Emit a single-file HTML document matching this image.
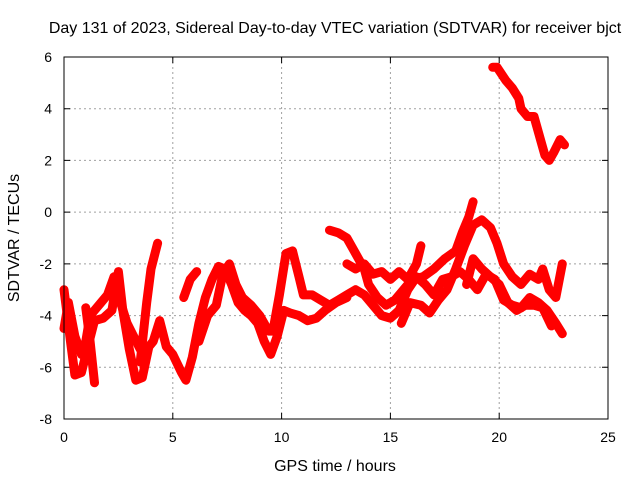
<!DOCTYPE html>
<html><head><meta charset="utf-8"><style>
body{margin:0;background:#fff;}
svg text{font-family:"Liberation Sans",sans-serif;font-size:14px;fill:#000;}
svg text.big{font-size:16px;}
</style></head><body>
<svg id="chart" width="640" height="480" xmlns="http://www.w3.org/2000/svg">
<text class="big" x="335" y="33" text-anchor="middle">Day 131 of 2023, Sidereal Day-to-day VTEC variation (SDTVAR) for receiver bjct</text>
<text class="big" x="335" y="471" text-anchor="middle">GPS time / hours</text>
<text class="big" transform="translate(19,238) rotate(-90)" text-anchor="middle">SDTVAR / TECUs</text>
<g id="grid"></g>
<g id="ticks"></g>
<g id="series"></g>
<rect x="64" y="57" width="544" height="362" fill="none" stroke="#000" stroke-width="1"/>
</svg>
<script>
const xTicks=[0,5,10,15,20,25];
const yTicks=[-8,-6,-4,-2,0,2,4,6];
const trackA=[[0,-3],[0.3,-5],[0.5,-6.3],[0.8,-6.2],[1.1,-5.2],[1.4,-4.2],[1.8,-4.1],[2.2,-3.8],[2.5,-2.3],[2.7,-3.8],[3.0,-5.3],[3.3,-6.5],[3.6,-6.4],[3.9,-5.2],[4.1,-5],[4.4,-4.2],[4.7,-5.2],[5.0,-5.5],[5.4,-6.2],[5.6,-6.5],[5.9,-5.6],[6.2,-4.3],[6.5,-3.3],[6.8,-2.6],[7.1,-2.1],[7.4,-2.2],[7.7,-2.8],[8.0,-3.5],[8.3,-3.8],[8.6,-4.0],[8.9,-4.3],[9.2,-5.0],[9.5,-5.5],[9.8,-4.8],[10.1,-3.8],[10.4,-3.9],[10.8,-4.0],[11.2,-4.2],[11.6,-4.1],[12.0,-3.8],[12.5,-3.5],[13.0,-3.3]];
const trackB=[[0,-4.5],[0.2,-3.5],[0.5,-4.8],[0.8,-5.5],[1.0,-5.0],[1.2,-4],[1.4,-3.8],[1.7,-3.5],[2.0,-3.2],[2.3,-2.5],[2.6,-3.5],[2.9,-4.3],[3.2,-4.8],[3.5,-5.3]];
const trackC=[[1.0,-3.7],[1.2,-5],[1.4,-6.6]];
const trackD=[[3.5,-5.8],[3.8,-3.5],[4.0,-2.2],[4.3,-1.2]];
const trackE=[[5.5,-3.3],[5.8,-2.6],[6.1,-2.3]];
const trackF=[[6.2,-5.0],[6.6,-4.0],[7.0,-3.6],[7.3,-2.4],[7.6,-2.0],[7.9,-2.8],[8.2,-3.3],[8.6,-3.6],[9.0,-4.0],[9.4,-4.6],[9.6,-4.6],[9.9,-3.2],[10.2,-1.6],[10.5,-1.5],[10.8,-2.5],[11.0,-3.2],[11.4,-3.2],[11.8,-3.4],[12.2,-3.6],[12.6,-3.4],[13.0,-3.2],[13.4,-3.0],[13.8,-3.2],[14.2,-3.6],[14.6,-4.0],[15.0,-4.1],[15.4,-3.8],[15.8,-3.0],[16.2,-2.5],[16.6,-2.8],[17.0,-3.2],[17.4,-2.6],[17.8,-2.5],[18.2,-2.3],[18.6,-2.6],[19.0,-3.0],[19.4,-2.4],[19.8,-2.6],[20.2,-3.4],[20.6,-3.6],[21.0,-3.7],[21.4,-3.3],[21.8,-3.5],[22.2,-3.8],[22.6,-4.3],[22.9,-4.7]];
const trackG=[[12.2,-0.7],[12.6,-0.8],[13.0,-1.0],[13.4,-1.6],[13.8,-2.2],[14.0,-2.8],[14.4,-3.3],[14.8,-3.6],[15.2,-3.4],[15.6,-3.0],[16.0,-2.6],[16.5,-2.5],[17.0,-2.2],[17.5,-1.8],[18.0,-1.5],[18.3,-0.8],[18.6,-0.2],[18.8,0.4]];
const trackH=[[13.0,-2.0],[13.4,-2.2],[13.8,-2.0],[14.2,-2.4],[14.6,-2.3],[15.0,-2.6],[15.4,-2.3],[15.8,-2.6],[16.2,-2.0],[16.4,-1.3]];
const trackI=[[15.5,-4.3],[15.9,-3.5],[16.4,-3.6],[16.8,-3.9],[17.2,-3.4],[17.6,-3.0],[18.0,-2.2],[18.4,-1.3],[18.8,-0.5],[19.2,-0.3],[19.6,-0.6],[19.9,-1.2],[20.2,-2.0],[20.6,-2.5],[21.0,-2.8],[21.4,-2.4],[21.8,-2.6],[22.0,-2.2],[22.3,-3.0],[22.6,-3.3],[22.9,-2.0]];
const trackJ=[[18.5,-2.8],[18.8,-1.8],[19.2,-2.2],[19.6,-2.5],[20.0,-2.8],[20.4,-3.5],[20.8,-3.8],[21.2,-3.6],[21.6,-3.6],[22.0,-3.7],[22.4,-4.4]];
const trackK=[[19.7,5.6],[19.9,5.6],[20.3,5.1],[20.6,4.8],[20.9,4.4],[21.0,4.0],[21.3,3.7],[21.6,3.7],[21.9,2.8],[22.1,2.2],[22.3,2.0],[22.5,2.3],[22.8,2.8],[23.0,2.6]];
const tracks=[trackA,trackB,trackC,trackD,trackE,trackF,trackG,trackH,trackI,trackJ,trackK];

const X0=64,X1=608,Y0=419,Y1=57,xmin=0,xmax=25,ymin=-8,ymax=6;
const sx=v=>X0+(v-xmin)/(xmax-xmin)*(X1-X0);
const sy=v=>Y0-(v-ymin)/(ymax-ymin)*(Y0-Y1);
const NS='http://www.w3.org/2000/svg';
const grid=document.getElementById('grid'),ticks=document.getElementById('ticks'),series=document.getElementById('series');
function mk(t,a){const e=document.createElementNS(NS,t);for(const k in a)e.setAttribute(k,a[k]);return e;}
xTicks.forEach(t=>{
  const x=sx(t);
  if(t>xmin&&t<xmax){const g=mk('line',{x1:x,x2:x,y1:Y1,y2:Y0,stroke:'#a0a0a0','stroke-dasharray':'2,3'});
  
  
  grid.appendChild(g);}
  const tk=mk('path',{d:`M${x},${Y0}v-6M${x},${Y1}v6`,stroke:'#000'});
  
  
  ticks.appendChild(tk);
  const lb=mk('text',{x:x,y:Y0+23,'text-anchor':'middle'});lb.textContent=t;
  
  
  ticks.appendChild(lb);
});
yTicks.forEach(t=>{
  const y=sy(t);
  if(t>ymin&&t<ymax){const g=mk('line',{x1:X0,x2:X1,y1:y,y2:y,stroke:'#a0a0a0','stroke-dasharray':'2,3'});
  
  
  grid.appendChild(g);}
  const tk=mk('path',{d:`M${X0},${y}h6M${X1},${y}h-6`,stroke:'#000'});
  
  
  ticks.appendChild(tk);
  const lb=mk('text',{x:X0-12,y:y+5,'text-anchor':'end'});lb.textContent=t;
  
  
  ticks.appendChild(lb);
});
tracks.forEach(tr=>{
  const d=tr.map((p,i)=>(i?'L':'M')+sx(p[0]).toFixed(1)+','+sy(p[1]).toFixed(1)).join('');
  const pl=mk('path',{d:d,fill:'none',stroke:'#ff0000','stroke-width':9,'stroke-linejoin':'round','stroke-linecap':'round'});
  
  
  series.appendChild(pl);
});
</script>
</body></html>
